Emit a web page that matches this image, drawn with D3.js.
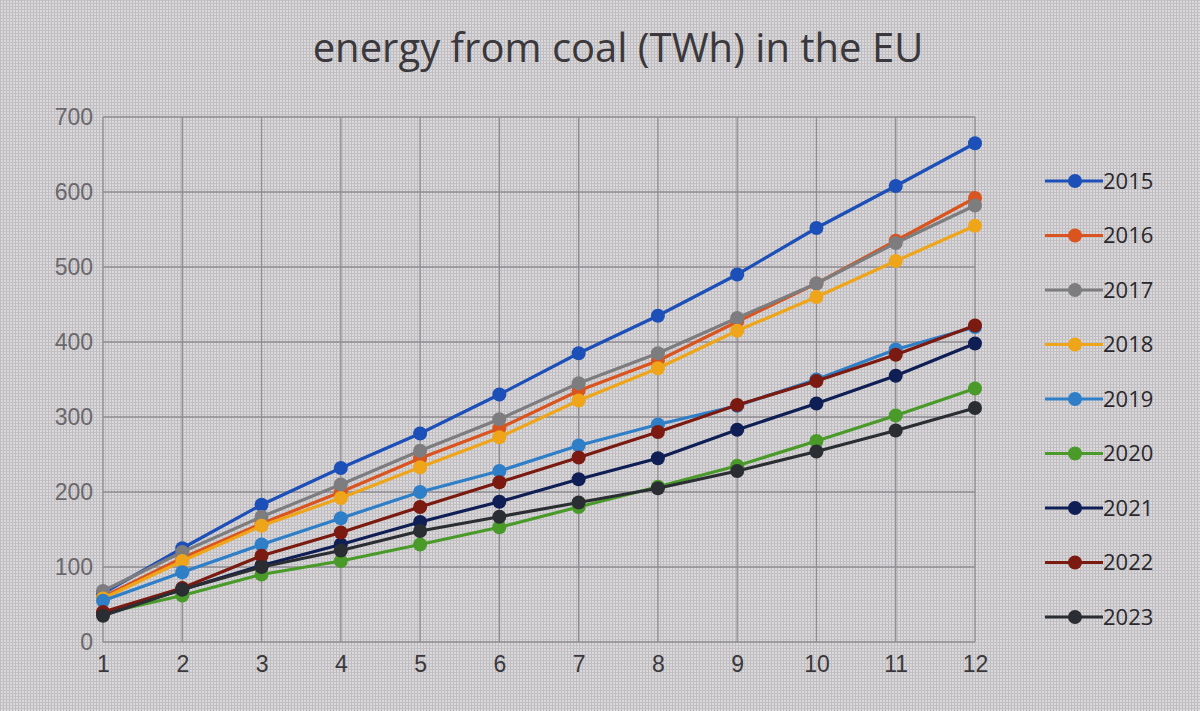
<!DOCTYPE html>
<html>
<head>
<meta charset="utf-8">
<script src="https://cdn.jsdelivr.net/npm/d3@7"></script>
<style>
  body { margin: 0; background: #d0cdd0; }
  svg { display: block; }
</style>
</head>
<body>
<svg id="chart"></svg>
<script>
// months on the x axis
var months = [1, 2, 3, 4, 5, 6, 7, 8, 9, 10, 11, 12];
var yTicks = [0, 100, 200, 300, 400, 500, 600, 700];
var years = ["2015", "2016", "2017", "2018", "2019", "2020", "2021", "2022", "2023"];

// cumulative TWh
var v2015 = [65, 125, 183, 232, 278, 330, 385, 435, 490, 552, 608, 665];
var v2016 = [60, 112, 158, 200, 245, 285, 335, 375, 427, 478, 535, 592];
var v2017 = [68, 120, 167, 210, 255, 297, 345, 385, 432, 478, 532, 582];
var v2018 = [58, 108, 155, 192, 233, 273, 322, 365, 415, 460, 508, 555];
var v2019 = [55, 93, 130, 165, 200, 228, 262, 290, 315, 350, 390, 420];
var v2020 = [38, 62, 90, 108, 130, 153, 180, 207, 235, 268, 302, 338];
var v2021 = [38, 70, 102, 130, 160, 187, 217, 245, 283, 318, 355, 398];
var v2022 = [40, 72, 115, 146, 180, 213, 246, 280, 316, 348, 383, 422];
var v2023 = [35, 70, 100, 122, 148, 167, 186, 205, 228, 254, 282, 312];

var colors = ["#1d4fb8", "#d9541e", "#7d7d80", "#eea51a", "#2f7ec8", "#4a9a2a", "#0f1f55", "#7a1a10", "#2a2e33"];

var series = [v2015, v2016, v2017, v2018, v2019, v2020, v2021, v2022, v2023].map(function (vals, i) {
    return {name: years[i], color: colors[i], values: vals};
});

var width = 1200, height = 711;
var plot = {left: 103, right: 975, top: 117, bottom: 642};

var svg = d3.select("#chart")
    .attr("width", width)
    .attr("height", height)
    .style("font-family", "'Open Sans', 'Noto Sans', sans-serif");

// screen moire texture
var defs = svg.append("defs");
var pat = defs.append("pattern")
    .attr("id", "scr")
    .attr("width", 3).attr("height", 3)
    .attr("patternUnits", "userSpaceOnUse");
pat.append("rect").attr("width", 3).attr("height", 3).attr("fill", "#dad8da");
pat.append("rect").attr("width", 1).attr("height", 3).attr("fill", "#bdbbbe");
pat.append("rect").attr("width", 3).attr("height", 1).attr("fill", "#c2c0c3");

svg.append("rect")
    .attr("width", width).attr("height", height)
    .attr("fill", "url(#scr)");

var x = d3.scalePoint()
    .domain(months)
    .range([plot.left, plot.right]);

var y = d3.scaleLinear()
    .domain([0, 700])
    .range([plot.bottom, plot.top]);

// gridlines
var grid = svg.append("g").attr("class", "grid");
grid.selectAll(".hline")
    .data(yTicks)
    .enter().append("line")
    .attr("x1", plot.left).attr("x2", plot.right)
    .attr("y1", function (d) { return y(d); })
    .attr("y2", function (d) { return y(d); })
    .style("stroke", "#8e8c90")
    .style("stroke-width", 1.3);
grid.selectAll(".vline")
    .data(months)
    .enter().append("line")
    .attr("x1", function (d) { return x(d); })
    .attr("x2", function (d) { return x(d); })
    .attr("y1", plot.top).attr("y2", plot.bottom)
    .style("stroke", "#8e8c90")
    .style("stroke-width", 1.3);

// axes
var yAxis = d3.axisLeft(y).tickValues(yTicks).tickSize(0).tickPadding(10);
var yg = svg.append("g")
    .attr("transform", "translate(" + plot.left + ",0)")
    .call(yAxis);
yg.select(".domain").remove();
yg.selectAll("text")
    .style("font-size", "23px")
    .style("fill", "#6a686c");

var xAxis = d3.axisBottom(x).tickSize(0).tickPadding(14);
var xg = svg.append("g")
    .attr("transform", "translate(0," + plot.bottom + ")")
    .call(xAxis);
xg.select(".domain").remove();
xg.selectAll("text")
    .style("font-size", "23px")
    .style("fill", "#3a383c");

// lines and markers
var line = d3.line()
    .x(function (d, i) { return x(months[i]); })
    .y(function (d) { return y(d); });

var sg = svg.selectAll(".series")
    .data(series)
    .enter().append("g")
    .attr("class", "series");

sg.append("path")
    .attr("d", function (s) { return line(s.values); })
    .style("fill", "none")
    .style("stroke", function (s) { return s.color; })
    .style("stroke-width", 3.2);

sg.each(function (s) {
    d3.select(this).selectAll("circle")
        .data(s.values)
        .enter().append("circle")
        .attr("cx", function (d, i) { return x(months[i]); })
        .attr("cy", function (d) { return y(d); })
        .attr("r", 7)
        .style("fill", s.color);
});

// title
svg.append("text")
    .attr("x", 618).attr("y", 62)
    .attr("text-anchor", "middle")
    .style("font-size", "40px")
    .style("fill", "#3a383c")
    .text("energy from coal (TWh) in the EU");

// legend
var leg = svg.selectAll(".legend")
    .data(series)
    .enter().append("g")
    .attr("class", "legend")
    .attr("transform", function (s, i) { return "translate(1045," + (181 + i * 54.5) + ")"; });
leg.append("line")
    .attr("x1", 0).attr("x2", 58)
    .style("stroke", function (s) { return s.color; })
    .style("stroke-width", 3.2);
leg.append("circle")
    .attr("cx", 30).attr("r", 7)
    .style("fill", function (s) { return s.color; });
leg.append("text")
    .attr("x", 58).attr("dy", "0.35em")
    .style("font-size", "22px")
    .style("fill", "#2a282c")
    .text(function (s) { return s.name; });
</script>
</body>
</html>
